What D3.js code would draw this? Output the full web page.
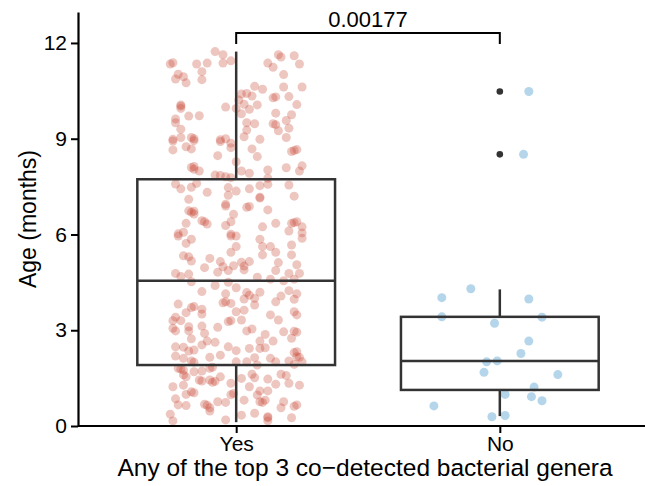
<!DOCTYPE html>
<html>
<head>
<meta charset="utf-8">
<script src="https://cdn.jsdelivr.net/npm/d3@7"></script>
<style>
  body { margin: 0; background: #fff; }
  text { font-family: 'Liberation Sans', Arial, sans-serif; fill: #000; }
</style>
</head>
<body>
<div id="plot_area"></div>
<script>
// Set SVG width and height
const w = 645;
const h = 486;

// Groups and tick labels
const groups = ['Yes', 'No'];
const yTicks = [0, 3, 6, 9, 12];

// Jittered points, [age, jitter offset in category units]
const yesPoints = [
  [11.34,-0.25],[11.38,-0.24],[11.73,-0.08],[11.63,-0.05],[11.34,-0.15],[11.37,-0.11],[11.37,-0.05],[11.44,-0.02],
  [11.02,-0.22],[10.87,-0.23],[10.94,-0.20],[10.75,-0.19],[11.10,-0.13],[10.85,-0.13],[11.63,0.16],[11.56,0.17],
  [11.60,0.22],[11.37,0.12],[11.24,0.14],[11.34,0.24],[11.01,0.18],[10.64,0.07],[10.55,0.10],[10.62,0.18],
  [10.62,0.25],[10.40,0.02],[10.42,0.04],[10.21,0.01],[10.34,0.06],[10.06,0.08],[9.92,0.05],[10.08,0.03],
  [10.28,0.14],[10.31,0.15],[10.32,0.20],[10.07,0.23],[10.06,-0.21],[10.02,-0.21],[9.95,-0.21],[9.71,-0.18],
  [9.72,-0.14],[9.99,-0.04],[9.95,0.00],[9.78,0.02],[9.62,-0.23],[9.50,-0.23],[9.30,-0.21],[9.80,0.15],
  [9.75,0.21],[9.57,0.19],[9.47,0.14],[9.44,0.15],[9.50,0.04],[9.47,0.07],[9.27,0.04],[9.25,0.16],
  [9.33,0.20],[8.98,-0.24],[9.04,-0.21],[9.04,-0.17],[9.00,-0.16],[8.97,-0.06],[9.00,-0.04],[9.06,0.03],
  [8.98,0.09],[9.04,0.19],
  [8.93,-0.24],[8.94,-0.16],[8.75,-0.19],[8.68,-0.17],[8.65,-0.24],[8.91,-0.06],[8.72,-0.02],[8.86,-0.02],
  [8.68,0.06],[8.44,0.08],[8.47,-0.07],[8.28,0.00],[8.63,0.22],[8.60,0.21],[8.66,0.23],[8.10,-0.17],
  [8.13,-0.16],[8.04,-0.16],[7.99,-0.14],[7.86,-0.08],[7.85,-0.06],[7.81,-0.04],[7.78,-0.02],[7.99,0.02],
  [7.92,0.05],[8.02,0.12],[7.76,0.12],[8.09,0.19],[7.99,0.24],[8.15,0.25],[7.58,-0.23],[7.43,-0.21],
  [7.48,-0.17],[7.60,-0.15],[7.32,-0.11],[7.47,-0.03],[7.36,0.00],[7.43,0.05],[7.53,0.09],[7.57,0.12],
  [7.55,0.20],[7.20,0.22],[7.10,-0.18],[7.23,-0.03],[6.95,-0.04],[6.89,-0.04],[7.17,0.09],[7.14,0.09],
  [6.85,0.04],[6.88,0.05],[6.77,0.12],[6.74,-0.18],[6.70,-0.17],[6.73,-0.16],[6.64,-0.16],[6.63,-0.01],
  [6.35,-0.19],[6.43,-0.13],[6.40,-0.12],[6.33,-0.11],[6.40,-0.02],[6.28,-0.04],[6.24,0.10],[6.35,0.15],
  [6.35,0.21],[6.40,0.23],[6.37,0.22],[6.24,0.25],[6.11,0.20],[6.02,-0.22],[6.07,-0.20],[6.01,-0.02],
  [5.95,-0.22],[5.72,-0.19],[5.85,-0.17],[5.95,-0.02],[5.95,0.00],[5.62,0.00],[5.44,-0.02],[5.85,0.09],
  [5.62,0.10],[5.62,0.13],[5.44,0.15],[5.36,0.10],[5.88,0.25],[6.05,0.25],[5.67,0.21],[5.36,0.21],
  [5.33,-0.20],[5.30,-0.18],[5.17,-0.17],[5.25,-0.10],[4.96,-0.12],[5.15,-0.06],[4.99,-0.05],[5.02,-0.01],
  [5.13,0.02],[5.01,0.03],[5.15,0.05],[4.89,0.03],[4.82,-0.07],[4.87,-0.03],[5.12,0.16],[4.87,0.15],
  [4.78,0.20],[5.05,0.23],[4.78,0.24],[4.60,0.13],[4.78,-0.23],[4.68,-0.21],[4.76,-0.18],[4.52,-0.17],
  [4.66,0.08],[4.55,0.18],[4.60,0.22],[4.50,-0.03],[4.40,-0.08],[4.21,-0.13],[4.33,0.00],[4.18,0.04],
  [4.10,0.05],[4.19,0.09],[4.14,-0.04],[4.24,0.20],[4.14,0.23],[4.07,0.17],[4.00,0.07],[3.98,0.03],
  [3.89,0.15],[3.97,0.22],[3.89,-0.04],[3.86,-0.05],[3.84,-0.02],[3.79,0.07],[3.82,-0.22],[3.71,-0.17],
  [3.74,-0.16],[3.55,-0.19],[3.66,-0.13],[3.51,-0.13],[3.58,0.00],[3.63,0.03],[3.48,0.13],[3.58,0.22],
  [3.48,0.23],[3.41,-0.23],[3.30,-0.24],[3.30,-0.21],[3.30,-0.02],[3.27,-0.03],[3.32,0.02],[3.32,0.16],
  [3.11,-0.18],[3.13,-0.13],[3.09,-0.07],
  [3.06,-0.24],[2.98,-0.23],[2.98,-0.18],[2.90,-0.12],[2.73,-0.17],[2.66,-0.11],[2.62,-0.08],[2.98,0.04],
  [3.04,0.06],[2.87,0.11],[2.66,0.09],[2.66,0.14],[2.95,0.18],[2.75,0.21],[2.94,0.23],[2.97,0.22],
  [2.48,-0.23],[2.47,-0.20],[2.35,-0.18],[2.38,-0.16],[2.54,-0.13],[2.48,-0.03],[2.36,0.00],[2.43,0.05],
  [2.43,0.09],[2.45,0.11],[2.22,-0.06],[2.15,-0.10],[2.19,-0.23],[2.12,-0.20],[2.04,-0.17],[2.00,-0.16],
  [2.01,0.00],[2.14,0.07],[2.01,0.04],[1.91,0.08],[2.12,0.13],[2.01,0.15],[2.04,0.20],[2.33,0.23],
  [2.30,0.22],[2.17,0.23],[2.15,0.24],[2.01,0.25],[1.93,0.22],[1.81,-0.22],[1.78,-0.21],[1.75,-0.20],
  [1.54,-0.19],[1.60,-0.20],[1.70,-0.16],[1.44,-0.14],[1.41,-0.13],[1.72,-0.13],[1.81,-0.10],[1.84,-0.09],
  [1.44,-0.10],[1.37,-0.09],[1.40,-0.08],[1.54,-0.06],[1.34,-0.02],[1.49,0.02],[1.62,0.06],[1.51,0.07],
  [1.47,0.12],[1.31,0.15],[1.62,0.17],[1.58,0.19],[1.34,0.20],[1.28,0.24],[1.23,-0.24],[1.28,-0.20],
  [1.07,-0.17],[1.04,-0.16],[0.99,-0.19],[1.10,0.09],[0.97,0.08],[1.10,0.12],[1.23,0.05],[1.02,-0.01],
  [0.98,-0.02],[0.85,-0.23],[0.66,-0.22],[0.64,-0.19],[0.68,-0.12],[0.65,-0.11],[0.57,-0.10],[0.47,-0.10],
  [0.76,-0.07],[0.74,-0.04],[0.81,0.03],[0.76,0.09],[0.40,0.07],[0.81,0.11],[0.74,0.10],[0.76,0.18],
  [0.57,0.17],[0.66,0.23],[0.62,0.22],[0.26,0.21],[0.29,0.12],[0.26,0.12],[0.16,0.12],[0.34,0.02],
  [0.19,-0.04],[0.37,-0.25],[0.16,-0.24]
];

const noPoints = [
  [10.48,0.11],[8.51,0.09],[4.30,-0.11],[4.02,-0.22],[3.98,0.11],[3.42,-0.22],[3.41,0.16],
  [3.22,-0.02],[2.66,0.11],[2.27,0.08],[2.01,-0.05],[2.04,-0.01],[1.68,-0.06],[1.61,0.22],
  [1.22,0.13],[0.99,0.02],[0.92,0.12],[0.79,0.16],[0.63,-0.25],[0.29,-0.03],[0.33,0.02]
];

// Box statistics: [whisker low, q1, median, q3, whisker high]
const boxYes = [0.12, 1.91, 4.55, 7.73, 11.73];
const boxNo = [0.31, 1.13, 2.04, 3.42, 4.28];
const outliersNo = [10.48, 8.51];

// Significance bracket
const pLabel = '0.00177';
const bracketY = 12.31;
const bracketTip = 11.97;

const xTitle = 'Any of the top 3 co\u2212detected bacterial genera';
const yTitle = 'Age (months)';

// Scales
const xScale = d3.scalePoint()
                .domain(groups)
                .range([78, 658])
                .padding(0.6);
const step = xScale.step();

const yScale = d3.scaleLinear()
                .domain([0, 12.97])
                .range([426, 12]);

const svg = d3.select('#plot_area')
            .append('svg')
            .attr('width', w)
            .attr('height', h);

// Jittered points
const pointSets = [
  { name: 'Yes', pts: yesPoints, color: '#c8412f', alpha: 0.3 },
  { name: 'No', pts: noPoints, color: '#6baed6', alpha: 0.5 }
];
pointSets.forEach(function (s) {
  svg.append('g')
     .selectAll('circle')
     .data(s.pts)
     .enter()
     .append('circle')
     .attr('cx', (d) => xScale(s.name) + d[1] * step)
     .attr('cy', (d) => yScale(d[0]))
     .attr('r', 4.5)
     .attr('fill', s.color)
     .attr('fill-opacity', s.alpha);
});

// Boxplots
const boxes = [['Yes', boxYes], ['No', boxNo]];
const boxW = step * 0.75;
const lineCol = '#333333';
boxes.forEach(function (b) {
  const cx = xScale(b[0]);
  const s = b[1];
  const g = svg.append('g')
               .attr('stroke', lineCol)
               .attr('stroke-width', 2.5)
               .attr('fill', 'none');
  g.append('line')
   .attr('x1', cx).attr('x2', cx)
   .attr('y1', yScale(s[0])).attr('y2', yScale(s[1]));
  g.append('line')
   .attr('x1', cx).attr('x2', cx)
   .attr('y1', yScale(s[3])).attr('y2', yScale(s[4]));
  g.append('rect')
   .attr('x', cx - boxW / 2)
   .attr('y', yScale(s[3]))
   .attr('width', boxW)
   .attr('height', yScale(s[1]) - yScale(s[3]));
  g.append('line')
   .attr('x1', cx - boxW / 2).attr('x2', cx + boxW / 2)
   .attr('y1', yScale(s[2])).attr('y2', yScale(s[2]));
});

// Outliers
svg.append('g')
   .selectAll('circle')
   .data(outliersNo)
   .enter()
   .append('circle')
   .attr('cx', xScale('No'))
   .attr('cy', (d) => yScale(d))
   .attr('r', 3.3)
   .attr('fill', lineCol);

// Significance bracket
svg.append('path')
   .datum([[xScale('Yes'), bracketTip], [xScale('Yes'), bracketY], [xScale('No'), bracketY], [xScale('No'), bracketTip]])
   .attr('fill', 'none')
   .attr('stroke', '#000')
   .attr('stroke-width', 2)
   .attr('d', d3.line()
            .x((d) => d[0])
            .y((d) => yScale(d[1])));

svg.append('text')
   .attr('x', (xScale('Yes') + xScale('No')) / 2)
   .attr('y', yScale(bracketY) - 6)
   .attr('text-anchor', 'middle')
   .style('font-size', '22px')
   .text(pLabel);

// x-axis
const xAxis = svg.append('g')
   .attr('transform', 'translate(0,' + yScale(0) + ')')
   .call(d3.axisBottom(xScale).tickSize(7).tickPadding(3));
xAxis.select('.domain')
     .attr('d', 'M78,0H' + w)
     .attr('stroke-width', 2.2);
xAxis.selectAll('.tick line').attr('stroke-width', 2);
xAxis.selectAll('.tick text')
     .style('font-size', '21px')
     .style('font-family', "'Liberation Sans', Arial, sans-serif")
     .attr('fill', '#000');

// x-axis label
svg.append('text')
   .attr('x', 365)
   .attr('y', 476)
   .attr('text-anchor', 'middle')
   .style('font-size', '24.5px')
   .text(xTitle);

// y-axis
const yAxis = svg.append('g')
   .attr('transform', 'translate(78,0)')
   .call(d3.axisLeft(yScale).tickValues(yTicks).tickSize(7).tickPadding(4).tickSizeOuter(0));
yAxis.select('.domain').attr('stroke-width', 2.2);
yAxis.selectAll('.tick line').attr('stroke-width', 2);
yAxis.selectAll('.tick text')
     .style('font-size', '21px')
     .style('font-family', "'Liberation Sans', Arial, sans-serif")
     .attr('fill', '#000');

// y-axis label
svg.append('text')
   .attr('text-anchor', 'middle')
   .attr('transform', 'translate(36,' + 219 + ')rotate(-90)')
   .style('font-size', '23px')
   .text(yTitle);
</script>
</body>
</html>
